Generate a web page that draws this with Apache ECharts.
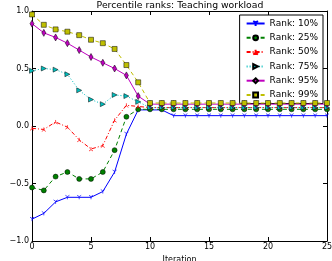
<!DOCTYPE html>
<html>
<head>
<meta charset="utf-8">
<script src="https://cdn.jsdelivr.net/npm/echarts@6/dist/echarts.min.js"></script>
<style>html,body{margin:0;padding:0;background:#fff}#c{width:332px;height:261px}</style>
</head>
<body>
<div id="c"></div>
<script>
const iterations = [0,1,2,3,4,5,6,7,8,9,10,11,12,13,14,15,16,17,18,19,20,21,22,23,24,25];
const seriesNames = ['Rank: 10%','Rank: 25%','Rank: 50%','Rank: 75%','Rank: 95%','Rank: 99%'];
const rank10 = [-0.81,-0.76,-0.66,-0.62,-0.62,-0.62,-0.57,-0.40,-0.07,0.14,0.14,0.14,0.09,0.09,0.09,0.09,0.09,0.09,0.09,0.09,0.09,0.09,0.09,0.09,0.09,0.09];
const rank25 = [-0.535,-0.56,-0.44,-0.40,-0.46,-0.46,-0.40,-0.21,0.08,0.145,0.145,0.145,0.145,0.145,0.145,0.145,0.145,0.145,0.145,0.145,0.145,0.145,0.145,0.145,0.145,0.145];
const rank50 = [-0.02,-0.03,0.035,-0.01,-0.12,-0.20,-0.17,0.05,0.18,0.17,0.16,0.16,0.16,0.16,0.16,0.16,0.16,0.16,0.16,0.16,0.16,0.16,0.16,0.16,0.16,0.16];
const rank75 = [0.48,0.50,0.49,0.45,0.31,0.23,0.19,0.27,0.26,0.21,0.16,0.16,0.16,0.16,0.16,0.16,0.16,0.16,0.16,0.16,0.16,0.16,0.16,0.16,0.16,0.16];
const rank95 = [0.89,0.81,0.77,0.72,0.66,0.60,0.55,0.50,0.44,0.26,0.19,0.19,0.19,0.19,0.19,0.19,0.19,0.19,0.19,0.19,0.19,0.19,0.19,0.19,0.19,0.19];
const rank99 = [0.97,0.88,0.84,0.82,0.79,0.75,0.72,0.67,0.53,0.38,0.20,0.20,0.20,0.20,0.20,0.20,0.20,0.20,0.20,0.20,0.20,0.20,0.20,0.20,0.20,0.20];
const yTicks = [-1.0,-0.5,0.0,0.5,1.0];
const xTicks = [0,5,10,15,20,25];

const FONT = 'DejaVu Sans';
const pairs = v => iterations.map((x, i) => [x, v[i]]);
const triDown = 'path://M5,5L5,10M5,5L0.7,2.5M5,5L9.3,2.5';
const triUp = 'path://M5,5L5,0M5,5L0.7,7.5M5,5L9.3,7.5';

const styles = [
  {data: rank10, color: '#0000ff', type: 'solid', symbol: triDown, size: 4, border: '#0000ff', bw: 0.7},
  {data: rank25, color: '#008000', type: [4, 3], symbol: 'circle', size: 5, border: '#000', bw: 0.5},
  {data: rank50, color: '#ff0000', type: [4, 2, 1, 2], symbol: triUp, size: 4, border: '#ff0000', bw: 0.7},
  {data: rank75, color: '#00bfbf', type: [1, 2], symbol: 'triangle', rotate: -90, size: 5, border: '#000', bw: 0.5},
  {data: rank95, color: '#bf00bf', type: 'solid', symbol: 'diamond', size: [4, 7], border: '#000', bw: 0.5},
  {data: rank99, color: '#bfbf00', type: [4, 3], symbol: 'rect', size: 5, border: '#000', bw: 0.5}
];

const chart = echarts.init(document.getElementById('c'), null, {renderer: 'canvas'});
const axisLine = {show: true, onZero: false, lineStyle: {color: '#000', width: 1}};
const tick = {show: true, inside: true, length: 4, lineStyle: {color: '#000', width: 1}};
const fmt = v => (v < 0 ? '\u2212' : '') + Math.abs(v).toFixed(1);

chart.setOption({
  animation: false,
  backgroundColor: '#fff',
  textStyle: {fontFamily: FONT},
  title: {
    text: 'Percentile ranks: Teaching workload',
    left: 180, textAlign: 'center', top: 1, padding: 0,
    textStyle: {fontFamily: FONT, fontSize: 9.3, fontWeight: 'normal', color: '#000'}
  },
  grid: {left: 32, right: 5, top: 11, bottom: 20, containLabel: false, outerBoundsMode: 'none'},
  legend: {
    data: seriesNames,
    orient: 'vertical',
    right: 9, top: 15,
    padding: [4, 5, 4, 6],
    itemWidth: 18, itemHeight: 6, itemGap: 5.3,
    backgroundColor: '#fff',
    borderColor: '#000', borderWidth: 1, borderRadius: 0,
    textStyle: {fontFamily: FONT, fontSize: 9, color: '#000', lineHeight: 9}
  },
  xAxis: [
    {type: 'value', min: 0, max: 25, interval: 5, position: 'bottom',
     name: 'Iteration', nameLocation: 'middle', nameGap: 8,
     nameTextStyle: {fontFamily: FONT, fontSize: 8, color: '#000'},
     axisLine, axisTick: tick, splitLine: {show: false},
     axisLabel: {fontFamily: FONT, fontSize: 8, color: '#000', margin: 2}},
    {type: 'value', min: 0, max: 25, interval: 5, position: 'top',
     axisLine, axisTick: tick, splitLine: {show: false}, axisLabel: {show: false}}
  ],
  yAxis: [
    {type: 'value', min: -1, max: 1, interval: 0.5, position: 'left',
     name: 'Activation level', nameLocation: 'middle', nameGap: 24, nameRotate: 90,
     nameTextStyle: {fontFamily: FONT, fontSize: 8, color: '#000'},
     axisLine, axisTick: tick, splitLine: {show: false},
     axisLabel: {fontFamily: FONT, fontSize: 8, color: '#000', margin: 3, formatter: fmt}},
    {type: 'value', min: -1, max: 1, interval: 0.5, position: 'right',
     axisLine, axisTick: tick, splitLine: {show: false}, axisLabel: {show: false}}
  ],
  series: styles.map((s, k) => ({
    name: seriesNames[k],
    type: 'line',
    data: pairs(s.data),
    symbol: s.symbol,
    symbolSize: s.size,
    symbolRotate: s.rotate || 0,
    showSymbol: true,
    lineStyle: {color: s.color, width: 1, type: s.type},
    itemStyle: {color: s.color, borderColor: s.border, borderWidth: s.bw},
    emphasis: {disabled: true},
    z: 2 + k
  }))
});
</script>
</body>
</html>
